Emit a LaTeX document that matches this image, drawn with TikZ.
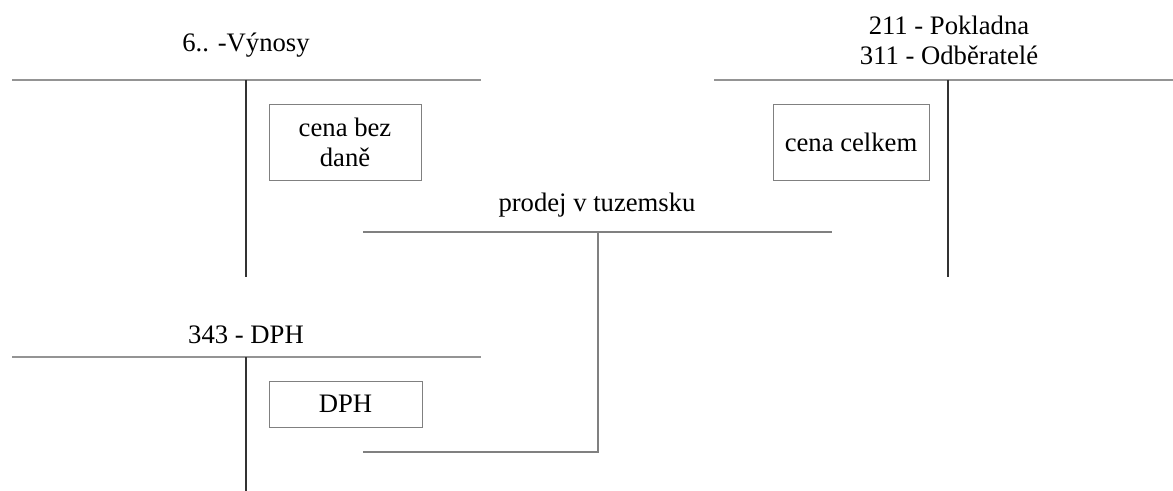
\documentclass[tikz,border=0pt]{standalone}
\usepackage{fontspec}
\setmainfont{Liberation Serif}
\usetikzlibrary{positioning}

\begin{document}
\begin{tikzpicture}[x=0.75pt,y=-0.75pt,
  vodorovna/.style={draw=black!42,line width=1.6pt},
  svisla/.style={draw=black!80,line width=1.5pt},
  tenka/.style={draw=black!50,line width=0.8pt},
  polozka/.style={draw=black!50,line width=0.7pt,inner sep=0pt,align=center,font=\fontsize{20}{22.5}\selectfont},
  nazev/.style={inner sep=0pt,align=center,font=\fontsize{20}{22.5}\selectfont}]
\useasboundingbox (0,0) rectangle (1173,491);
%Ucet 6.. - Vynosy
\coordinate (vyl) at (12,80);
\coordinate (vyp) at (481,80);
\coordinate (vyh) at (246,80);
\coordinate (vyd) at (246,277);
\draw[vodorovna] (vyl)--(vyp);
\draw[svisla] (vyh)--(vyd);
\node[nazev,anchor=base] (vynosy) at (246,52) {6.. -Výnosy};
\node[polozka,minimum width=114pt,minimum height=57pt] (bezdane) at (345,142) {cena bez\\daně};
%Ucet 211/311
\coordinate (pol) at (714,80);
\coordinate (pop) at (1173,80);
\coordinate (poh) at (948,80);
\coordinate (pod) at (948,277);
\draw[vodorovna] (pol)--(pop);
\draw[svisla] (poh)--(pod);
\node[nazev,anchor=base] (pokladna) at (949,35) {211 - Pokladna};
\node[nazev,anchor=base] (odberatele) at (949,65) {311 - Odběratelé};
\node[polozka,minimum width=117pt,minimum height=57pt] (celkem) at (851,142) {cena celkem};
%Ucet 343 - DPH
\coordinate (dpl) at (12,357);
\coordinate (dpp) at (481,357);
\coordinate (dph) at (246,357);
\coordinate (dpd) at (246,491);
\draw[vodorovna] (dpl)--(dpp);
\draw[svisla] (dph)--(dpd);
\node[nazev,anchor=base] (dphucet) at (246,343) {343 - DPH};
\node[polozka,minimum width=114.75pt,minimum height=34.5pt] (dphbox) at (345.5,404) {DPH};
%Prodej v tuzemsku
\coordinate (prl) at (363,232);
\coordinate (prp) at (832,232);
\coordinate (prh) at (598,232);
\coordinate (prd) at (598,452);
\coordinate (prk) at (363,452);
\draw[tenka] (prl)--(prp);
\draw[tenka] (prh)--(prd)--(prk);
\node[nazev,anchor=base] (prodej) at (597,212) {prodej v tuzemsku};
\end{tikzpicture}
\end{document}
